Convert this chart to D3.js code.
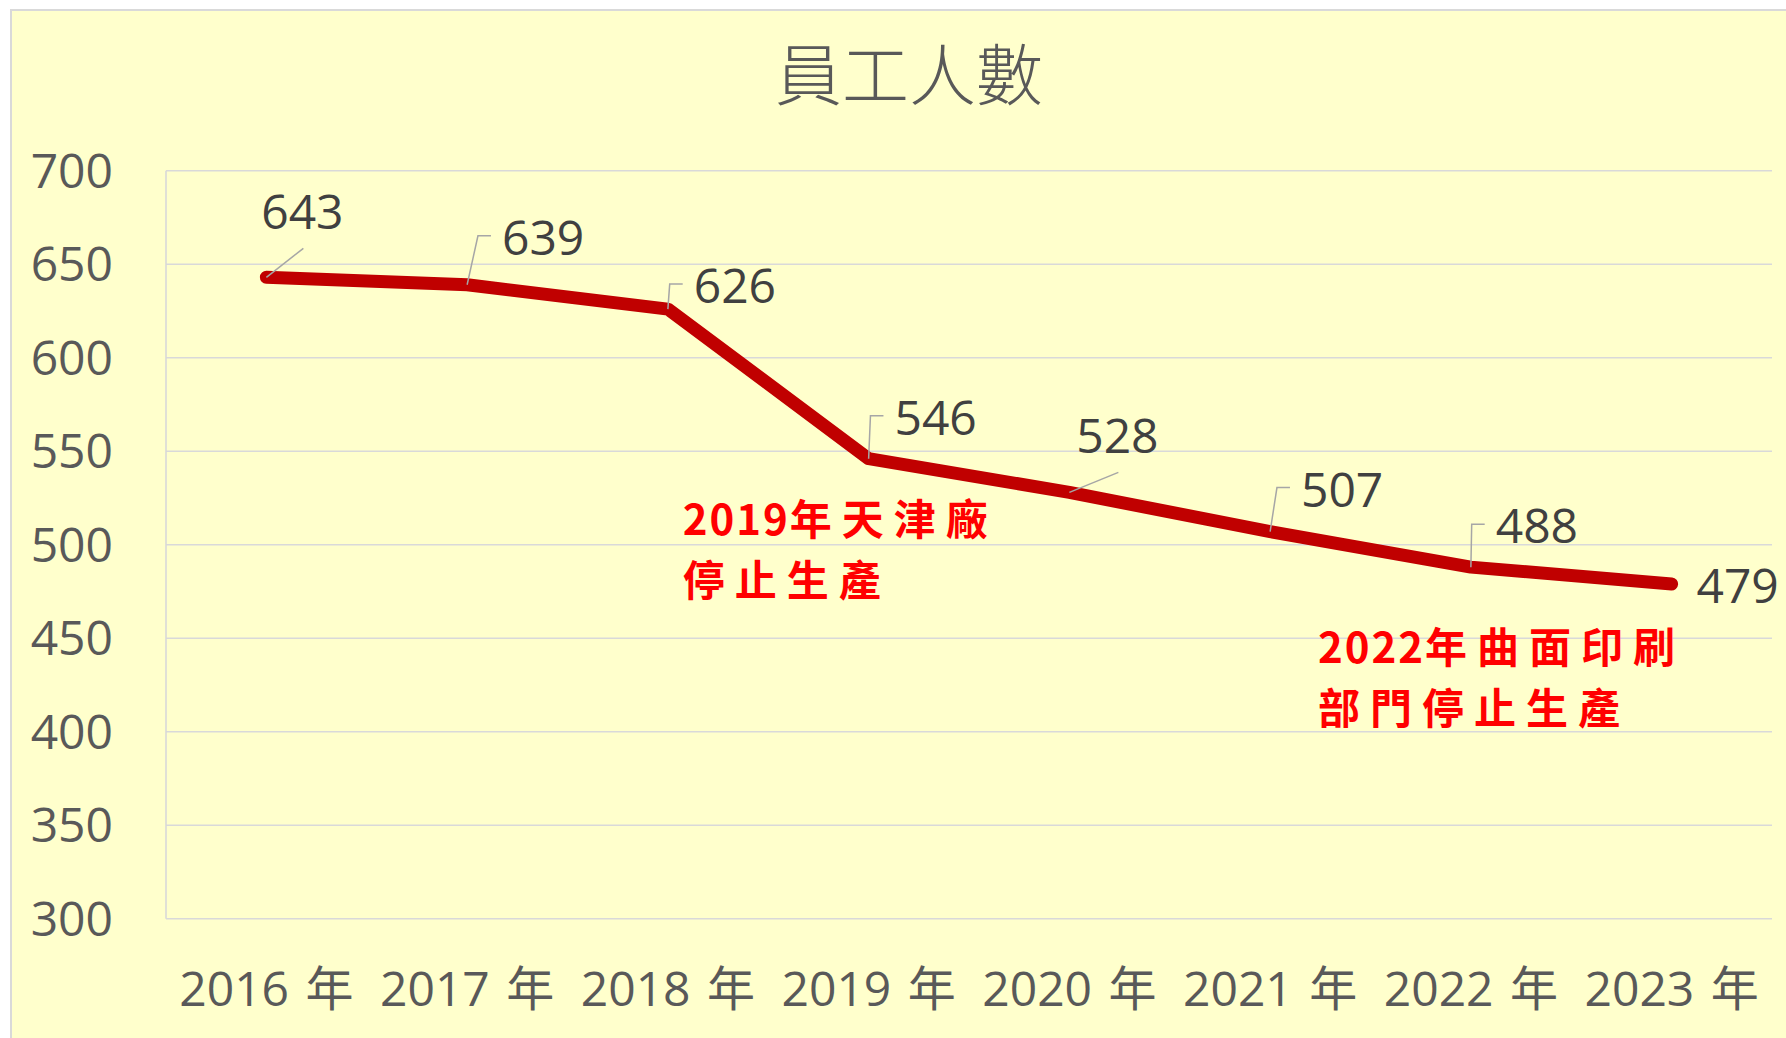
<!DOCTYPE html>
<html>
<head>
<meta charset="utf-8">
<script src="https://cdn.jsdelivr.net/npm/d3@7"></script>
<style>
    body { margin: 0; background: #fff; }
    svg text { font-family: "Open Sans", "Noto Sans CJK TC", sans-serif; }
</style>
</head>
<body>
<div id="chart"></div>
<script>
// chart data
const years = ["2016 年", "2017 年", "2018 年", "2019 年", "2020 年", "2021 年", "2022 年", "2023 年"];
const staff = [643, 639, 626, 546, 528, 507, 488, 479];
const yTicks = [300, 350, 400, 450, 500, 550, 600, 650, 700];
const title = "員工人數";

// label offsets from each point, and how the leader line is drawn
const labelDx = [36, 76, 67, 67, 48, 72, 66, 66];
const labelDy = [-48, -30, -6, -24, -39, -25, -24, 19];
const leader = ["diag", "hook", "hook", "hook", "diag", "hook", "hook", "none"];

const notes = [
    { year: "2019 年", value: 505, dx: -186, lines: ["2019年天津廠", "停止生產"] },
    { year: "2022 年", value: 437, dx: -153, lines: ["2022年曲面印刷", "部門停止生產"] }
];

let width = 1786;
let height = 1038;

let svg = d3.select('#chart')
    .append('svg')
    .attr('width', width)
    .attr('height', height);

svg.append('rect')
    .attr('x', 11)
    .attr('y', 10)
    .attr('width', 1800)
    .attr('height', 1100)
    .attr('fill', '#FFFFCC')
    .attr('stroke', '#D9D9D9')
    .attr('stroke-width', 2);

let x = d3.scaleBand()
    .domain(years)
    .range([166, 1772])
    .padding(0);

let y = d3.scaleLinear()
    .domain([300, 700])
    .range([918.7, 170.7]);

let cx = d => x(d) + x.bandwidth() / 2;

// gridlines
svg.append('g')
    .selectAll('line')
    .data(yTicks)
    .enter()
    .append('line')
    .attr('x1', 166)
    .attr('x2', 1772)
    .attr('y1', d => y(d))
    .attr('y2', d => y(d))
    .attr('stroke', '#D9D9D9')
    .attr('stroke-width', 1.6);

svg.append('line')
    .attr('x1', 166).attr('x2', 166)
    .attr('y1', y(700)).attr('y2', y(300))
    .attr('stroke', '#D9D9D9')
    .attr('stroke-width', 1.6);

// y axis labels
svg.append('g')
    .selectAll('text')
    .data(yTicks)
    .enter()
    .append('text')
    .attr('x', 113)
    .attr('y', d => y(d) + 17)
    .attr('text-anchor', 'end')
    .attr('font-size', 48)
    .attr('fill', '#595959')
    .text(d => d);

// x axis labels
svg.append('g')
    .selectAll('text')
    .data(years)
    .enter()
    .append('text')
    .attr('x', d => cx(d))
    .attr('y', 1006)
    .attr('text-anchor', 'middle')
    .attr('font-size', 48)
    .attr('fill', '#595959')
    .style('word-spacing', '4px')
    .text(d => d);

// title
svg.append('text')
    .attr('x', 909)
    .attr('y', 100)
    .attr('text-anchor', 'middle')
    .attr('font-size', 67)
    .attr('font-weight', 300)
    .attr('fill', '#595959')
    .style('font-family', '"Noto Sans CJK TC", sans-serif')
    .text(title);

// the line
let line = d3.line()
    .x((d, i) => cx(years[i]))
    .y(d => y(d));

svg.append('path')
    .datum(staff)
    .attr('d', line)
    .attr('fill', 'none')
    .attr('stroke', '#C00000')
    .attr('stroke-width', 13)
    .attr('stroke-linecap', 'round')
    .attr('stroke-linejoin', 'round');

// data labels with leader lines
let labels = svg.append('g');
staff.forEach(function (v, i) {
    let px = cx(years[i]);
    let py = y(v);
    let tx = px + labelDx[i];
    let ty = py + labelDy[i];

    let t = labels.append('text')
        .attr('x', tx)
        .attr('y', ty)
        .attr('text-anchor', 'middle')
        .attr('font-size', 48)
        .attr('fill', '#404040')
        .text(v);

    let w = t.node().getComputedTextLength();
    let left = tx - w / 2;
    let path = null;
    if (leader[i] == 'hook') {
        let my = ty - 19;
        path = 'M' + px + ',' + py + 'L' + (left - 24) + ',' + my + 'L' + (left - 11) + ',' + my;
    } else if (leader[i] == 'diag') {
        path = 'M' + px + ',' + py + 'L' + (tx + 1) + ',' + (ty + 19);
    }
    if (path) {
        labels.append('path')
            .attr('d', path)
            .attr('fill', 'none')
            .attr('stroke', '#A6A6A6')
            .attr('stroke-width', 1.5);
    }
});

// red notes, digits tight and CJK spaced out
notes.forEach(function (n) {
    let t = svg.append('text')
        .attr('font-size', 42)
        .attr('font-weight', 'bold')
        .attr('fill', '#FF0000')
        .style('font-family', '"Noto Sans CJK TC", sans-serif');
    n.lines.forEach(function (l, k) {
        let runs = l.match(/[0-9]+|[^0-9]+/g);
        runs.forEach(function (r, j) {
            let s = t.append('tspan')
                .style('letter-spacing', /[0-9]/.test(r) ? '2px' : '10px')
                .text(r);
            if (j == 0) {
                s.attr('x', cx(n.year) + n.dx)
                    .attr('y', y(n.value) + k * 61);
            }
        });
    });
});
</script>
</body>
</html>
